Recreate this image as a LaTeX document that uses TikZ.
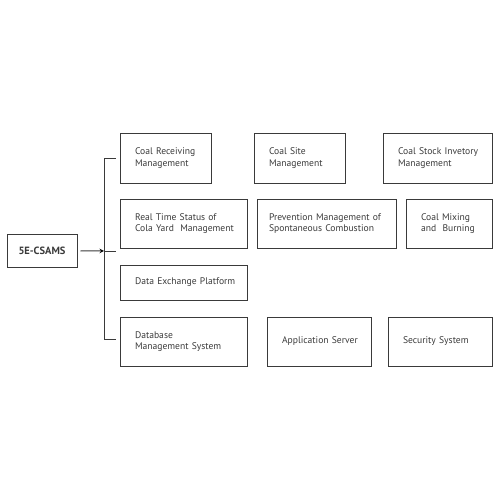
\documentclass[tikz,border=0pt]{standalone}
\usepackage{fontspec}
\setmainfont{PT Sans}
\definecolor{ink}{HTML}{3A3A3A}
\tikzset{
  box/.style={draw=ink, line width=1pt, rectangle, inner xsep=15pt, inner ysep=0pt,
    align=left, text=ink, font=\fontsize{9.6}{11.5}\selectfont},
}
\begin{document}
\begin{tikzpicture}[>=stealth, x=1pt, y=-1pt]
\useasboundingbox (0,0) rectangle (500,500);
{\centering
\node[box, minimum width=70pt, minimum height=33pt, inner xsep=0pt, align=center,
      font=\bfseries\fontsize{10.5}{12}\selectfont] (csams) at (42, 250.5) {5E-CSAMS};

\node[box, text width=61pt, minimum height=50pt] (recv)  at (165.5, 158) {\mbox{Coal Receiving}\\Management};
\node[box, text width=61pt, minimum height=50pt] (site)  at (299.5, 158) {Coal Site\\Management};
\node[box, text width=79pt, minimum height=50pt] (stock) at (437.5, 158) {\mbox{Coal Stock Invetory}\\Management};

\node[box, text width=97pt, minimum height=49pt] (status) at (183.5, 223.5) {\mbox{Real Time Status of}\\\mbox{Cola Yard\ \ Management}};
\node[box, text width=115pt, minimum height=49pt, inner xsep=12pt] (prev) at (326.5, 223.5) {\mbox{Prevention Management of}\\\mbox{Spontaneous Combustion}};
\node[box, text width=56pt, minimum height=49pt] (mix) at (449, 223.5) {Coal Mixing\\and\ \ Burning};

\node[box, text width=97pt, minimum height=35pt] (dex) at (183.5, 282.5) {\mbox{Data Exchange Platform}};

\node[box, text width=97pt, minimum height=49pt] (db)  at (183.5, 341.5) {Database\\\mbox{Management System}};
\node[box, text width=74pt, minimum height=49pt, align=center] (app) at (319, 341.5) {\mbox{Application Server}};
\node[box, text width=74pt, minimum height=49pt] (sec) at (440, 341.5) {\mbox{Security System}};

\coordinate (top) at (104, 158);
\coordinate (mid) at (104, 251);
\coordinate (bot) at (104, 339);
\coordinate (midtick) at (116, 251);

\draw[ink, line width=1pt] (top) -- (bot);
\draw[ink, line width=1pt, shorten >=4pt] (top) -- (recv.west);
\draw[ink, line width=1pt] (mid) -- (midtick);
\draw[ink, line width=1pt, shorten >=4pt] (bot) -- (db.west |- bot);
\path[->, draw=ink, line width=1pt, shorten <=3pt] (csams) edge node {} (mid);

}
\end{tikzpicture}
\end{document}
